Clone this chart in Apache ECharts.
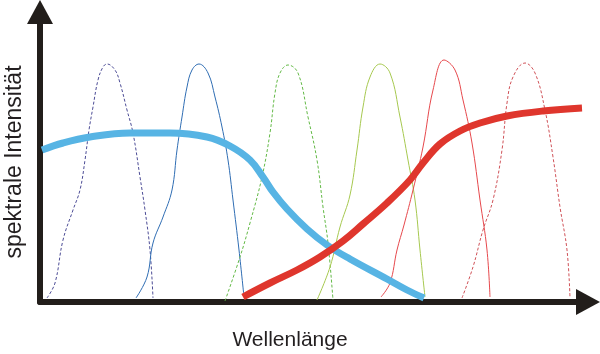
<!DOCTYPE html>
<html>
<head>
<meta charset="utf-8">
<script src="https://cdn.jsdelivr.net/npm/echarts@6/dist/echarts.min.js"></script>
<style>
  html, body { margin: 0; padding: 0; background: #fff; }
  #chart { width: 600px; height: 354px; }
</style>
</head>
<body>
<div id="chart"></div>
<script>
// axis titles
const xTitle = 'Wellenlänge'
const yTitle = 'spektrale Intensität'

// narrow peaks: [wavelength, intensity]
const peak1 = [[7,4],[15,19],[23,62],[33,92],[40,112],[45,142],[49,172],[53,195],[58,222],[63,235],[67,238],[75,232],[80,219],[87,192],[93,169],[100,125],[105,92],[110,52],[113,4]]
const peak2 = [[96,4],[107,25],[113,59],[123,85],[132,112],[137,152],[142,185],[147,215],[152,232],[159,238],[168,229],[175,205],[182,175],[188,142],[193,102],[199,52],[204,5]]
const peak3 = [[185,1],[200,45],[210,79],[222,125],[230,169],[235,209],[240,229],[248,237],[258,229],[268,185],[277,142],[283,95],[288,59],[293,2]]
const peak4 = [[277,2],[290,35],[300,75],[310,107],[317,152],[323,195],[330,225],[340,238],[350,229],[360,185],[368,142],[375,102],[380,52],[385,5]]
const peak5 = [[341,5],[350,19],[357,52],[364,77],[373,112],[383,155],[393,212],[404,242],[415,232],[423,202],[432,159],[440,102],[447,52],[450,5]]
const peak6 = [[422,4],[433,35],[443,72],[453,102],[462,152],[467,199],[473,225],[485,239],[495,229],[505,192],[513,145],[520,95],[527,52],[530,4]]

// broad curves
const blueCurve = [[2,152],[23,159],[50,165],[90,169],[130,169],[167,165],[190,156],[210,142],[223,125],[233,110],[247,93],[267,73],[287,57],[310,43],[347,23],[367,12],[384,4]]
const redCurve = [[203,5],[230,19],[257,32],[280,45],[303,61],[323,78],[347,99],[370,122],[383,139],[400,158],[420,171],[440,179],[467,186],[503,191],[542,194]]

const axisColor = '#221e1b'

const thin = (data, color, dashed) => ({
  type: 'line',
  data,
  smooth: 0.4,
  symbol: 'none',
  lineStyle: { width: 1, color, type: dashed ? [3, 2] : 'solid' },
  z: 2,
})

const thick = (data, color) => ({
  type: 'line',
  data,
  smooth: 0.4,
  symbol: 'none',
  lineStyle: { width: 7, color, cap: 'butt' },
  z: 3,
})

const chart = echarts.init(document.getElementById('chart'))
chart.setOption({
  animation: false,
  grid: { left: 40, right: 12, top: 12, bottom: 52, outerBoundsMode: 'none' },
  xAxis: {
    type: 'value',
    min: 0,
    max: 548,
    name: xTitle,
    nameLocation: 'middle',
    nameGap: 28,
    nameTextStyle: { fontFamily: 'Liberation Sans', fontSize: 21, color: '#231f20', padding: [0, 48, 0, 0] },
    axisLine: {
      lineStyle: { color: axisColor, width: 6 },
      symbol: ['none', 'triangle'],
      symbolSize: [26, 24],
    },
    axisTick: { show: false },
    axisLabel: { show: false },
    splitLine: { show: false },
  },
  yAxis: {
    type: 'value',
    min: 0,
    max: 290,
    name: yTitle,
    nameLocation: 'middle',
    nameRotate: 90,
    nameGap: 14,
    nameTextStyle: { fontFamily: 'Liberation Sans', fontSize: 23, color: '#231f20', padding: [0, 10, 0, 0] },
    axisLine: {
      lineStyle: { color: axisColor, width: 6 },
      symbol: ['none', 'triangle'],
      symbolSize: [26, 24],
    },
    axisTick: { show: false },
    axisLabel: { show: false },
    splitLine: { show: false },
  },
  series: [
    thin(peak1, '#4b4b95', true),
    thin(peak2, '#2f6db3', false),
    thin(peak3, '#63b946', true),
    thin(peak4, '#a6c84f', false),
    thin(peak5, '#e6484c', false),
    thin(peak6, '#cf5157', true),
    thick(blueCurve, '#57b4e4'),
    thick(redCurve, '#df362d'),
  ],
})
</script>
</body>
</html>
